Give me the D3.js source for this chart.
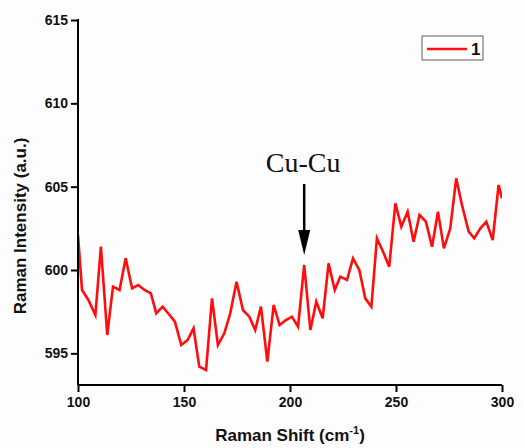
<!DOCTYPE html>
<html>
<head>
<meta charset="utf-8">
<script src="https://cdn.jsdelivr.net/npm/d3@7"></script>
<style>
  html, body { margin: 0; padding: 0; background: #fdfdfd; }
  svg { display: block; }
  .axis path, .axis line { stroke: #000; stroke-width: 2px; }
  .axis text { font-family: "Liberation Sans", Arial, sans-serif; font-weight: bold; font-size: 14px; fill: #111; }
</style>
</head>
<body>
<svg id="chart" width="524" height="448"></svg>
<script>
// Raman shift (cm-1) and measured intensity (a.u.)
const shift = [100.0, 101.9, 104.9, 108.2, 110.8, 113.8, 116.5, 119.6, 122.5, 125.5,
  128.4, 131.4, 134.4, 136.9, 139.9, 143.2, 145.7, 148.7, 151.7, 154.5,
  157.2, 160.4, 163.2, 166.0, 169.0, 171.8, 174.8, 177.8, 180.8, 183.6,
  186.3, 189.3, 192.3, 195.1, 198.1, 200.9, 203.8, 206.7, 209.6, 212.4,
  215.4, 218.2, 221.1, 223.7, 226.9, 229.7, 232.7, 235.5, 238.4, 241.0,
  243.9, 246.8, 249.7, 252.5, 255.5, 258.3, 261.1, 264.1, 267.0, 269.8,
  272.6, 275.6, 278.4, 281.3, 284.3, 286.9, 289.8, 292.6, 295.6, 298.4, 300.0];
const intensity = [602.1, 598.8, 598.2, 597.3, 601.4, 596.1, 599.0, 598.8, 600.7, 598.9,
  599.1, 598.8, 598.6, 597.4, 597.8, 597.3, 596.9, 595.5, 595.8, 596.5,
  594.2, 594.0, 598.3, 595.5, 596.2, 597.4, 599.3, 597.6, 597.2, 596.4,
  597.8, 594.5, 597.9, 596.7, 597.0, 597.2, 596.6, 600.3, 596.4, 598.1,
  597.1, 600.4, 598.8, 599.6, 599.4, 600.7, 600.0, 598.3, 597.8, 601.9,
  601.1, 600.2, 604.0, 602.6, 603.5, 601.7, 603.3, 602.9, 601.4, 603.5,
  601.3, 602.5, 605.5, 603.8, 602.3, 601.9, 602.5, 602.9, 601.8, 605.1, 604.3];
const xTicks = [100, 150, 200, 250, 300];
const yTicks = [595, 600, 605, 610, 615];
const seriesName = "1";
const peakLabel = "Cu-Cu";
const peakShift = 206.7;
const peakValue = 600.3;

const svg = d3.select("#chart");
const plot = { left: 78, right: 502, top: 20, bottom: 385 };

const x = d3.scaleLinear().domain([100, 300]).range([plot.left, plot.right]);
const y = d3.scaleLinear().domain([593.1, 615]).range([plot.bottom, plot.top]);

// clip region for the spectrum
svg.append("clipPath").attr("id", "plotClip")
  .append("rect")
  .attr("x", plot.left).attr("y", plot.top)
  .attr("width", plot.right - plot.left).attr("height", plot.bottom - plot.top);

// spectrum
const pts = shift.map((s, i) => [s, intensity[i]]);
svg.append("path")
  .datum(pts)
  .attr("clip-path", "url(#plotClip)")
  .attr("fill", "none")
  .attr("stroke", "#ff0d0d")
  .attr("stroke-width", 2.6)
  .attr("stroke-linejoin", "miter")
  .attr("d", d3.line().x(d => x(d[0])).y(d => y(d[1])));

// axes
const xAxis = svg.append("g").attr("class", "axis")
  .attr("transform", `translate(0,${plot.bottom})`)
  .call(d3.axisBottom(x).tickValues(xTicks).tickSize(7).tickPadding(5).tickSizeOuter(0));
const yAxis = svg.append("g").attr("class", "axis")
  .attr("transform", `translate(${plot.left},0)`)
  .call(d3.axisLeft(y).tickValues(yTicks).tickSize(7).tickPadding(3).tickSizeOuter(0));
xAxis.select(".domain").attr("d", `M${plot.left},0H${plot.right}`);
yAxis.select(".domain").attr("d", `M0,${plot.bottom}V${plot.top - 1}`);

// axis titles
const xt = svg.append("text")
  .attr("x", (plot.left + plot.right) / 2)
  .attr("y", 441)
  .attr("text-anchor", "middle")
  .style("font-family", "'Liberation Sans', Arial, sans-serif")
  .style("font-weight", "bold")
  .style("font-size", "17px")
  .attr("fill", "#111");
xt.append("tspan").text("Raman Shift (cm");
xt.append("tspan").attr("dy", -7).style("font-size", "11px").text("-1");
xt.append("tspan").attr("dy", 7).text(")");

svg.append("text")
  .attr("transform", "translate(26,226) rotate(-90)")
  .attr("text-anchor", "middle")
  .style("font-family", "'Liberation Sans', Arial, sans-serif")
  .style("font-weight", "bold")
  .style("font-size", "17px")
  .attr("fill", "#111")
  .text("Raman Intensity (a.u.)");

// legend
const lg = svg.append("g").attr("transform", "translate(422,36)");
lg.append("rect").attr("width", 61).attr("height", 24)
  .attr("fill", "#fff").attr("stroke", "#777").attr("stroke-width", 1.2);
lg.append("line").attr("x1", 5).attr("x2", 45).attr("y1", 13).attr("y2", 13)
  .attr("stroke", "#ff0d0d").attr("stroke-width", 2.6);
lg.append("text").attr("x", 49).attr("y", 19)
  .style("font-family", "'Liberation Sans', Arial, sans-serif")
  .style("font-weight", "bold").style("font-size", "17px").attr("fill", "#111")
  .text(seriesName);

// peak annotation
const px = x(peakShift);
const tipY = y(peakValue) - 10;
svg.append("text")
  .attr("x", px - 1).attr("y", 172)
  .attr("text-anchor", "middle")
  .style("font-family", "'Liberation Serif', 'Times New Roman', serif")
  .style("font-size", "28px")
  .attr("fill", "#111")
  .text(peakLabel);
svg.append("line")
  .attr("x1", px).attr("x2", px).attr("y1", 184).attr("y2", tipY - 20)
  .attr("stroke", "#000").attr("stroke-width", 2.5);
svg.append("path")
  .attr("d", `M${px - 6},${tipY - 25}L${px + 6},${tipY - 25}L${px},${tipY}Z`)
  .attr("fill", "#000");
</script>
</body>
</html>
